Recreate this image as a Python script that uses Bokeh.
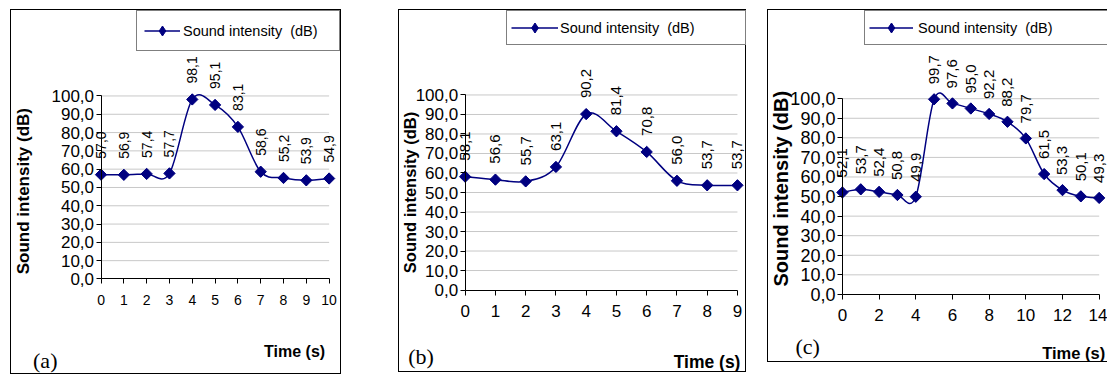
import math
from bokeh.plotting import figure
from bokeh.models import (ColumnDataSource, LabelSet, Label, Legend, LegendItem,
                          FixedTicker, Spacer)
from bokeh.layouts import row, column
from bokeh.embed import file_html
from bokeh.resources import INLINE
from bokeh.core.properties import value

# ---------------- data ----------------
TIME_A = [0, 1, 2, 3, 4, 5, 6, 7, 8, 9, 10]
SOUND_A = [57.0, 56.9, 57.4, 57.7, 98.1, 95.1, 83.1, 58.6, 55.2, 53.9, 54.9]

TIME_B = [0, 1, 2, 3, 4, 5, 6, 7, 8, 9]
SOUND_B = [58.1, 56.6, 55.7, 63.1, 90.2, 81.4, 70.8, 56.0, 53.7, 53.7]

TIME_C = [0, 1, 2, 3, 4, 5, 6, 7, 8, 9, 10, 11, 12, 13, 14]
SOUND_C = [52.1, 53.7, 52.4, 50.8, 49.9, 99.7, 97.6, 95.0, 92.2, 88.2, 79.7,
           61.5, 53.3, 50.1, 49.3]

Y_TICKS = [0, 10, 20, 30, 40, 50, 60, 70, 80, 90, 100]
X_TICKS_A = [0, 1, 2, 3, 4, 5, 6, 7, 8, 9, 10]
X_TICKS_B = [0, 1, 2, 3, 4, 5, 6, 7, 8, 9]
X_TICKS_C = [0, 2, 4, 6, 8, 10, 12, 14]

SERIES_NAME = "Sound intensity  (dB)"
Y_TITLE = "Sound intensity (dB)"
X_TITLE = "Time (s)"
TAGS = ["(a)", "(b)", "(c)"]

NAVY = "#000080"
SANS = "Liberation Sans"


def fmt(v):
    return f"{v:.1f}".replace(".", ",")


def smooth(xs, ys):
    n = len(xs)
    d = dict(x0=[], y0=[], x1=[], y1=[], cx0=[], cy0=[], cx1=[], cy1=[])
    for i in range(n - 1):
        ip = i - 1 if i > 0 else i
        inx = i + 2 if i + 2 < n else i + 1
        d["x0"].append(xs[i]); d["y0"].append(ys[i])
        d["x1"].append(xs[i + 1]); d["y1"].append(ys[i + 1])
        d["cx0"].append(xs[i] + (xs[i + 1] - xs[ip]) / 6.0)
        d["cy0"].append(ys[i] + (ys[i + 1] - ys[ip]) / 6.0)
        d["cx1"].append(xs[i + 1] - (xs[inx] - xs[i]) / 6.0)
        d["cy1"].append(ys[i + 1] - (ys[inx] - ys[i]) / 6.0)
    return d


def panel(xs, ys, xticks, tag, g):
    left, top, w, h = g["box"]
    rb = g.get("right_border", True)
    # inner (canvas) box inside the 1px CSS border
    il, it = left + 1, top + 1
    iw = w - (2 if rb else 1)
    ih = h - 2
    x0px, xNpx, y0px, y100px = g["x0px"], g["xNpx"], g["y0px"], g["y100px"]
    ux = (xNpx - x0px) / (xs[-1] - xs[0])
    uy = (y0px - y100px) / 100.0
    x_start = xs[0] - (x0px - il) / ux
    x_end = xs[-1] + (il + iw - xNpx) / ux
    y_start = 0 - (it + ih - y0px) / uy
    y_end = 100 + (y100px - it) / uy

    border = "1px solid black"
    st = {"border-left": border, "border-top": border, "border-bottom": border,
          "box-sizing": "border-box"}
    if rb:
        st["border-right"] = border
    p = figure(width=w, height=h, x_range=(x_start, x_end), y_range=(y_start, y_end),
               output_backend="svg", toolbar_location=None,
               min_border=0, min_border_left=0, min_border_right=0,
               min_border_top=0, min_border_bottom=0, styles=st)
    p.outline_line_color = None
    p.xgrid.visible = False
    p.ygrid.visible = False
    p.background_fill_color = "white"
    p.border_fill_color = "white"

    # gridlines (10..100 at y ticks, spanning the time axis)
    gy = Y_TICKS[1:]
    p.segment(x0=[xs[0]] * len(gy), y0=gy, x1=[xs[-1]] * len(gy), y1=gy,
              line_color="#c8c8c8", line_width=1)

    # axes placed at x=0 / y=0 inside the frame
    xa = p.xaxis[0]
    xa.fixed_location = 0
    xa.ticker = FixedTicker(ticks=xticks)
    xa.bounds = (xs[0], xs[-1])
    xa.major_tick_out = 5
    xa.major_tick_in = 0
    xa.minor_tick_out = 0
    xa.minor_tick_in = 0
    xa.axis_line_color = "black"
    xa.major_tick_line_color = "black"
    xa.major_label_standoff = g["xstand"]
    xa.major_label_text_font = SANS
    xa.major_label_text_font_size = g["xfs"]
    xa.major_label_text_color = "black"

    ya = p.yaxis[0]
    ya.fixed_location = xs[0]
    ya.ticker = FixedTicker(ticks=Y_TICKS)
    ya.bounds = (0, 100)
    ya.major_label_overrides = {t: fmt(t) for t in Y_TICKS}
    ya.major_tick_out = 5
    ya.major_tick_in = 0
    ya.minor_tick_out = 0
    ya.minor_tick_in = 0
    ya.axis_line_color = "black"
    ya.major_tick_line_color = "black"
    ya.major_label_standoff = 2
    ya.major_label_text_font = SANS
    ya.major_label_text_font_size = g["yfs"]
    ya.major_label_text_color = "black"

    # series: smoothed line, diamond markers (a slim diamond used for the
    # legend key sits underneath the square-rotated marker)
    br = p.bezier(source=ColumnDataSource(smooth(xs, ys)), x0="x0", y0="y0",
                  x1="x1", y1="y1", cx0="cx0", cy0="cy0", cx1="cx1", cy1="cy1",
                  line_color=NAVY, line_width=1.5)
    key = p.scatter(xs, ys, marker="diamond", size=10,
                    fill_color=NAVY, line_color=NAVY)
    p.scatter(xs, ys, marker="square", angle=math.pi / 4, size=g["msize"],
              fill_color=NAVY, line_color=NAVY)

    # data labels
    src = ColumnDataSource(dict(x=xs, y=ys, t=[fmt(v) for v in ys]))
    p.add_layout(LabelSet(x="x", y="y", text="t", source=src, angle=math.pi / 2,
                          text_align="left", text_baseline="middle",
                          y_offset=g["lab_off"], text_font=value(SANS),
                          text_font_size=value(g["lfs"]), text_color="black"))

    # axis titles and tag
    p.add_layout(Label(x=xs[0], y=g["ytitle_y"], x_offset=g["ytitle_dx"],
                       angle=math.pi / 2, text=Y_TITLE, text_align="center",
                       text_baseline="middle", text_font=SANS,
                       text_font_style="bold", text_font_size=g["ytfs"],
                       text_color="black"))
    p.add_layout(Label(x=xs[-1], y=0, x_offset=g["xt_dx"], y_offset=g["xt_dy"],
                       text=X_TITLE, text_align="right", text_baseline="middle",
                       text_font=SANS, text_font_style="bold",
                       text_font_size=g["xtfs"], text_color="black"))
    p.add_layout(Label(x=xs[0], y=0, x_offset=g["tag_dx"], y_offset=g["tag_dy"],
                       text=tag, text_align="left", text_baseline="middle",
                       text_font="Liberation Serif", text_font_size="22px",
                       text_color="black"))

    # legend box
    lx0, ly0, lx1, ly1 = g["legend"]
    leg = Legend(items=[LegendItem(label=SERIES_NAME, renderers=[br, key])],
                 location=(lx0 - il, it + ih - ly1),
                 border_line_color="black", border_line_width=1,
                 background_fill_color="white", background_fill_alpha=1.0,
                 padding=g["lpad"], spacing=0, margin=0,
                 glyph_width=g["gw"], glyph_height=25,
                 label_standoff=g["lst"], label_width=g["lw"], label_height=17,
                 label_text_font=SANS, label_text_font_size="14.5px",
                 label_text_color="black")
    p.add_layout(leg)
    return p


GA = dict(box=(10, 9, 331, 365), x0px=100, xNpx=326.7, y0px=277, y100px=95,
          xstand=11, xfs="14px", yfs="17px", lfs="14px", msize=8, lab_off=16,
          ytitle_y=48, ytitle_dx=-78, ytfs="17px", xtfs="16px",
          xt_dx=-4, xt_dy=-73, tag_dx=-68, tag_dy=-82,
          legend=(136, 9, 338, 49), lpad=7, gw=36, lst=3, lw=149)
GB = dict(box=(398, 9, 348, 363), x0px=464.3, xNpx=735, y0px=288, y100px=94,
          xstand=10, xfs="17px", yfs="17px", lfs="15px", msize=8, lab_off=16,
          ytitle_y=50, ytitle_dx=-55, ytfs="16.5px", xtfs="17.5px",
          xt_dx=3, xt_dy=-72, tag_dx=-57, tag_dy=-66,
          legend=(506, 9, 744, 43), lpad=4, gw=47, lst=2, lw=181)
GC = dict(box=(767, 9, 340, 353), x0px=841.7, xNpx=1097.7, y0px=292.3, y100px=97.7,
          xstand=10, xfs="17px", yfs="18px", lfs="15px", msize=8, lab_off=15,
          ytitle_y=54, ytitle_dx=-61, ytfs="20px", xtfs="16.5px",
          xt_dx=6, xt_dy=-59, tag_dx=-47, tag_dy=-52,
          legend=(864, 9, 1107, 43), lpad=4, gw=44, lst=5, lw=186,
          right_border=False)

pa = panel(TIME_A, SOUND_A, X_TICKS_A, TAGS[0], GA)
pb = panel(TIME_B, SOUND_B, X_TICKS_B, TAGS[1], GB)
pc = panel(TIME_C, SOUND_C, X_TICKS_C, TAGS[2], GC)

layout = column(Spacer(height=9),
                row(Spacer(width=10), pa, Spacer(width=57), pb, Spacer(width=21), pc))

with open("out.html", "w") as f:
    f.write(file_html(layout, INLINE))
